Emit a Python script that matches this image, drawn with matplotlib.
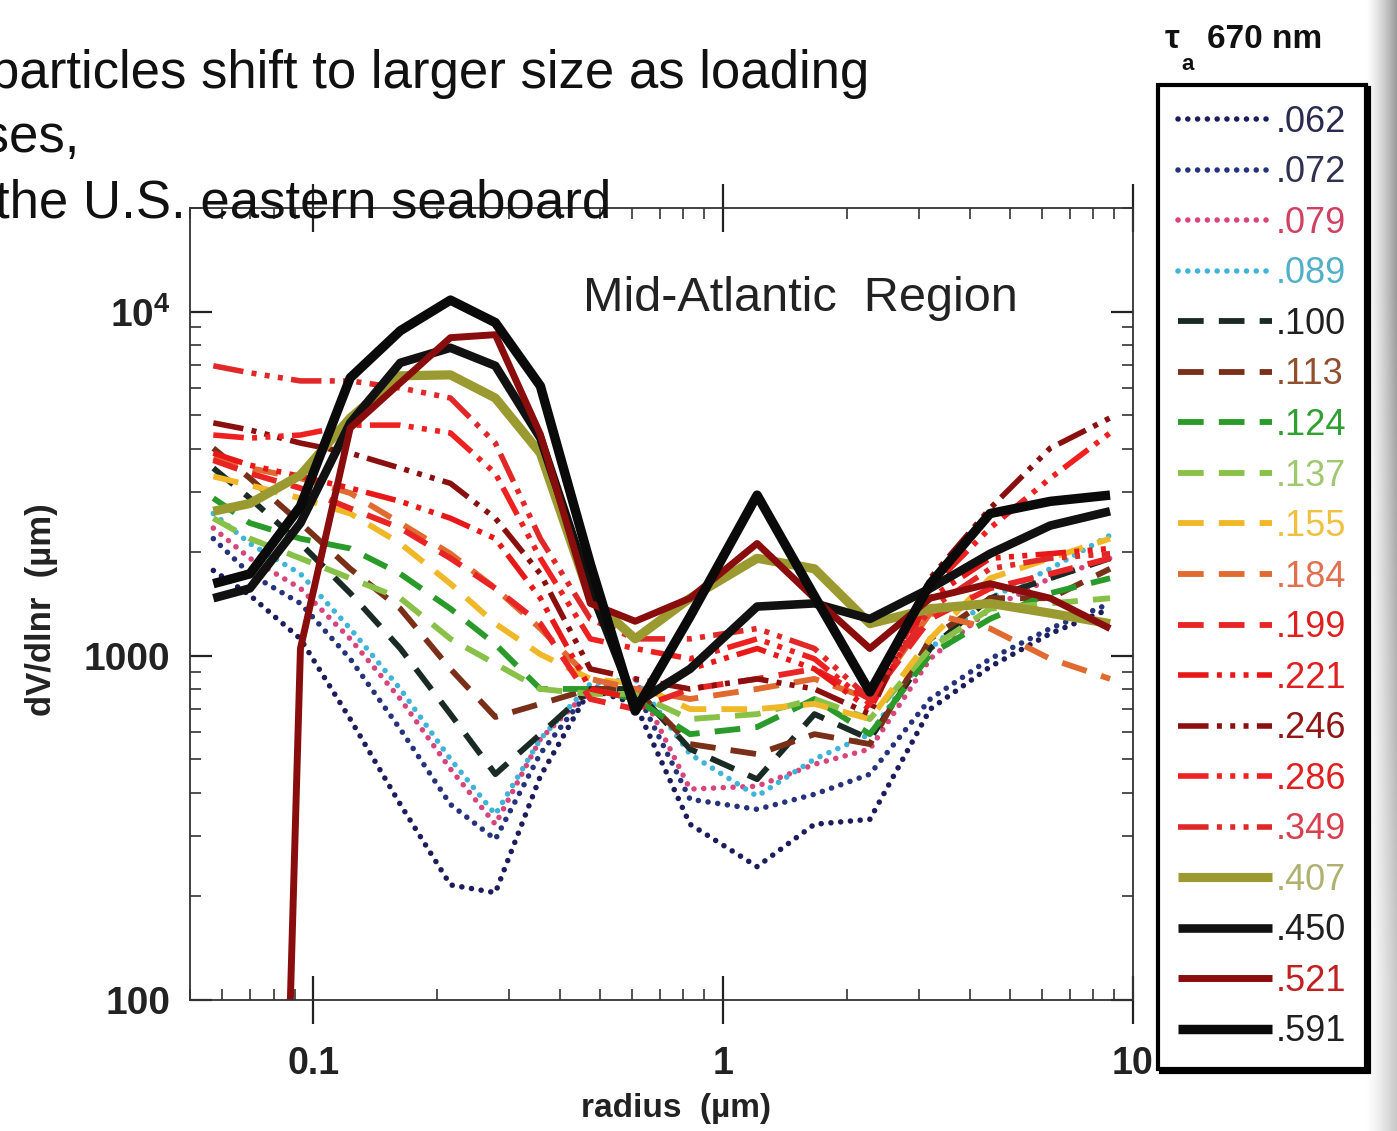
import numpy as np
import matplotlib
matplotlib.use("Agg")
import matplotlib.pyplot as plt
from matplotlib.ticker import FixedLocator, FixedFormatter, LogLocator, NullFormatter
from matplotlib.colors import LinearSegmentedColormap

plt.rcParams['font.family'] = ['Liberation Sans', 'DejaVu Sans']
plt.rcParams['mathtext.fontset'] = 'custom'
plt.rcParams['mathtext.rm'] = 'Liberation Sans'
plt.rcParams['mathtext.bf'] = 'Liberation Sans:bold'
plt.rcParams['mathtext.it'] = 'Liberation Sans:italic'

# ---------------- data ----------------
radius_um = [0.057, 0.070, 0.093, 0.123, 0.163, 0.216, 0.278, 0.358, 0.474,
             0.61, 0.83, 1.21, 1.67, 2.28, 3.2, 4.48, 6.28, 8.79]

tau_labels = ['.062', '.072', '.079', '.089', '.100', '.113', '.124', '.137', '.155',
              '.184', '.199', '.221', '.246', '.286', '.349', '.407', '.450', '.521', '.591']

dv_062 = [1770, 1500, 1120, 655, 370, 216, 205, 447, 801, 725, 324, 244, 324, 335, 700, 929, 1160, 1370]
dv_072 = [2190, 1730, 1420, 980, 612, 370, 293, 520, 801, 801, 383, 358, 396, 453, 749, 980, 1200, 1420]
dv_079 = [2350, 1920, 1570, 1120, 749, 469, 324, 573, 801, 857, 410, 418, 484, 536, 980, 1370, 1680, 1920]
dv_089 = [2590, 2120, 1730, 1200, 801, 501, 346, 573, 829, 857, 518, 391, 501, 592, 1050, 1470, 1790, 2240]
dv_100 = [3510, 2870, 2120, 1520, 1050, 677, 453, 592, 801, 801, 536, 438, 677, 573, 1050, 1470, 1680, 1920]
dv_113 = [4010, 3280, 2430, 1790, 1370, 916, 664, 725, 801, 801, 554, 518, 592, 554, 1120, 1470, 1470, 1790]
dv_124 = [2870, 2430, 2190, 2050, 1730, 1370, 1080, 801, 801, 749, 592, 621, 749, 592, 1010, 1280, 1520, 1680]
dv_137 = [2510, 2190, 1920, 1680, 1470, 1120, 948, 801, 775, 775, 655, 677, 749, 655, 1050, 1370, 1420, 1470]
dv_155 = [3320, 3130, 2870, 2590, 2120, 1620, 1240, 1010, 857, 829, 700, 700, 725, 655, 1120, 1680, 1920, 2190]
dv_184 = [3750, 3510, 3280, 2970, 2430, 1980, 1570, 1200, 857, 801, 749, 801, 857, 749, 1330, 1200, 980, 857]
dv_199 = [3700, 3390, 3070, 2680, 2350, 1920, 1570, 1240, 749, 700, 801, 857, 916, 749, 1280, 1570, 1730, 1920]
dv_221 = [3880, 3580, 3320, 3070, 2810, 2510, 2190, 1470, 801, 749, 916, 1050, 916, 700, 1470, 1920, 1980, 2050]
dv_246 = [4750, 4530, 4150, 3880, 3510, 3170, 2510, 1730, 916, 857, 801, 857, 801, 677, 1680, 2680, 4010, 4910]
dv_286 = [4380, 4290, 4380, 4680, 4680, 4440, 3390, 1920, 1120, 1050, 980, 1120, 980, 725, 1570, 2350, 3280, 4440]
dv_349 = [6960, 6640, 6290, 6290, 6000, 5610, 4150, 2190, 1280, 1120, 1120, 1200, 1050, 749, 1370, 1790, 1920, 1980]
dv_407 = [2630, 2770, 3350, 4910, 6510, 6550, 5610, 3880, 1470, 1120, 1470, 1920, 1790, 1240, 1370, 1420, 1330, 1240]
dv_450 = [1470, 1570, 2430, 4750, 7100, 7850, 6960, 4290, 1570, 725, 916, 1390, 1420, 1280, 1570, 1980, 2390, 2630]
dv_521 = [0.001, 0.008, 1050, 4590, 6210, 8400, 8570, 4400, 1420, 1260, 1470, 2120, 1470, 1050, 1470, 1620, 1470, 1200]
dv_591 = [1620, 1730, 2720, 6420, 8800, 10800, 9290, 6080, 1850, 691, 1300, 2930, 1490, 785, 1620, 2590, 2810, 2930]

x_ticks = [0.1, 1, 10]
x_tick_labels = ['0.1', '1', '10']
y_ticks = [100, 1000, 10000]
y_tick_labels = ['100', '1000', r'$\mathbf{10^{4}}$']

series = [dv_062, dv_072, dv_079, dv_089, dv_100, dv_113, dv_124, dv_137, dv_155,
          dv_184, dv_199, dv_221, dv_246, dv_286, dv_349, dv_407, dv_450, dv_521, dv_591]

# ---------------- styles ----------------
DOT = (0, (0.01, 1.75))
DASH = (0, (4.4, 2.6))
DASHDOT = (0, (5.5, 1.5, 0.9, 1.5, 0.9, 1.5, 0.9, 1.5))
line_colors = ['#1c1c5c', '#26327c', '#d8457a', '#3fb4d8', '#1a2a24', '#7a3018', '#2a9a2a',
               '#88c048', '#f0b828', '#e06a30', '#e82424', '#e81818', '#8a1010', '#ee2020',
               '#e02828', '#9a9a30', '#111111', '#8a0d0d', '#0a0a0a']
line_styles = [DOT] * 4 + [DASH] * 7 + [DASHDOT] * 4 + ['-'] * 4
line_widths = [4.0] * 4 + [4.2] * 7 + [4.0] * 4 + [6.6, 6.2, 5.0, 6.8]
text_colors = ['#2a2a50', '#303050', '#d04060', '#50b0c8', '#202020', '#905030', '#30a030',
               '#a0c870', '#f0c040', '#e07050', '#e02020', '#e02020', '#901515', '#e02020',
               '#d84050', '#b0b070', '#202020', '#c02020', '#202020']

W, H = 1397, 1131
fig = plt.figure(figsize=(W / 100, H / 100), dpi=100)
fig.patch.set_facecolor('white')

ax = fig.add_axes([190 / W, 131 / H, 943 / W, 792 / H])
ax.set_xscale('log')
ax.set_yscale('log')

handles = []
for vals, c, ls, lw in zip(series, line_colors, line_styles, line_widths):
    ln, = ax.plot(radius_um, vals, color=c, linestyle=ls, linewidth=lw,
                  dash_capstyle='round' if ls == DOT else 'butt',
                  solid_joinstyle='round', solid_capstyle='butt')
    handles.append(ln)

ax.set_xlim(0.05, 10)
ax.set_ylim(100, 2.0e4)

ax.xaxis.set_major_locator(FixedLocator(x_ticks))
ax.xaxis.set_major_formatter(FixedFormatter(x_tick_labels))
ax.xaxis.set_minor_locator(LogLocator(base=10, subs=np.arange(2, 10)))
ax.xaxis.set_minor_formatter(NullFormatter())
ax.yaxis.set_major_locator(FixedLocator(y_ticks))
ax.yaxis.set_major_formatter(FixedFormatter(y_tick_labels))
ax.yaxis.set_minor_locator(LogLocator(base=10, subs=np.arange(2, 10)))
ax.yaxis.set_minor_formatter(NullFormatter())

ax.tick_params(axis='x', which='major', direction='inout', length=34, width=1.6,
               top=True, bottom=True, labelsize=27, pad=16, colors='#222222')
ax.tick_params(axis='y', which='major', direction='in', length=16, width=1.6,
               left=True, right=True, labelsize=28, pad=14, colors='#222222')
ax.tick_params(which='minor', direction='in', length=8, width=1.2,
               top=True, right=True, bottom=True, left=True, colors='#333333')
for lab in ax.get_xticklabels() + ax.get_yticklabels():
    lab.set_fontweight('bold')
for sp in ax.spines.values():
    sp.set_linewidth(1.3)
    sp.set_color('#333333')

ax.text(0.647, 0.886, 'Mid-Atlantic  Region', transform=ax.transAxes,
        ha='center', va='center', fontsize=35, color='#222222')

fig.text(676 / W, 1 - 1108 / H, 'radius  (µm)', ha='center', va='center',
         fontsize=24, fontweight='bold', color='#222222')
fig.text(42 / W, 1 - 610 / H, 'dV/dlnr  (µm)', ha='center', va='center',
         rotation=90, fontsize=25, fontweight='bold', color='#222222')

# slide text (cut at the left edge, as in the source slide)
fig.text(-10 / W, 1 - 88 / H, 'particles shift to larger size as loading',
         ha='left', va='baseline', fontsize=38, color='#111111')
fig.text(80 / W, 1 - 152 / H, 'increases,', ha='right', va='baseline',
         fontsize=38, color='#111111')
fig.text(-5 / W, 1 - 217 / H, 'the U.S. eastern seaboard', ha='left',
         va='baseline', fontsize=38, color='#111111')

# legend
leg = fig.legend(handles, tau_labels, loc='upper left',
                 bbox_to_anchor=(1158 / W, 1 - 85 / H), bbox_transform=fig.transFigure,
                 fontsize=26, handlelength=2.6, handletextpad=0.1, labelspacing=0.43,
                 borderpad=0.55, borderaxespad=0, frameon=True, fancybox=False,
                 edgecolor='black', framealpha=1, shadow={'color': 'black', 'alpha': 1})
leg.get_frame().set_linewidth(3)
for t, c in zip(leg.get_texts(), text_colors):
    t.set_color(c)

fig.text(1165 / W, 1 - 40 / H, 'τ', ha='left', va='center', fontsize=24,
         fontweight='bold', color='#111111')
fig.text(1181 / W, 1 - 64 / H, 'a', ha='left', va='center', fontsize=16,
         fontweight='bold', color='#111111')
fig.text(1207 / W, 1 - 40 / H, '670 nm', ha='left', va='center', fontsize=24,
         fontweight='bold', color='#111111')

# grey slide shadow at the right edge
gax = fig.add_axes([1366 / W, 0, 31 / W, 1])
gx = np.linspace(0, 1, 60)[None, :]
gy = np.linspace(0, 1, 120)[:, None]
shade = gx ** 1.3 * (0.55 + 0.45 * np.clip(1.4 - 1.6 * gy, 0, 1))
cmap = LinearSegmentedColormap.from_list('g', ['#ffffff', '#9a9a9a'])
gax.imshow(shade, cmap=cmap, aspect='auto', vmin=0, vmax=1, interpolation='bilinear')
gax.axis('off')

fig.savefig('out.png', dpi=100, facecolor='white')
